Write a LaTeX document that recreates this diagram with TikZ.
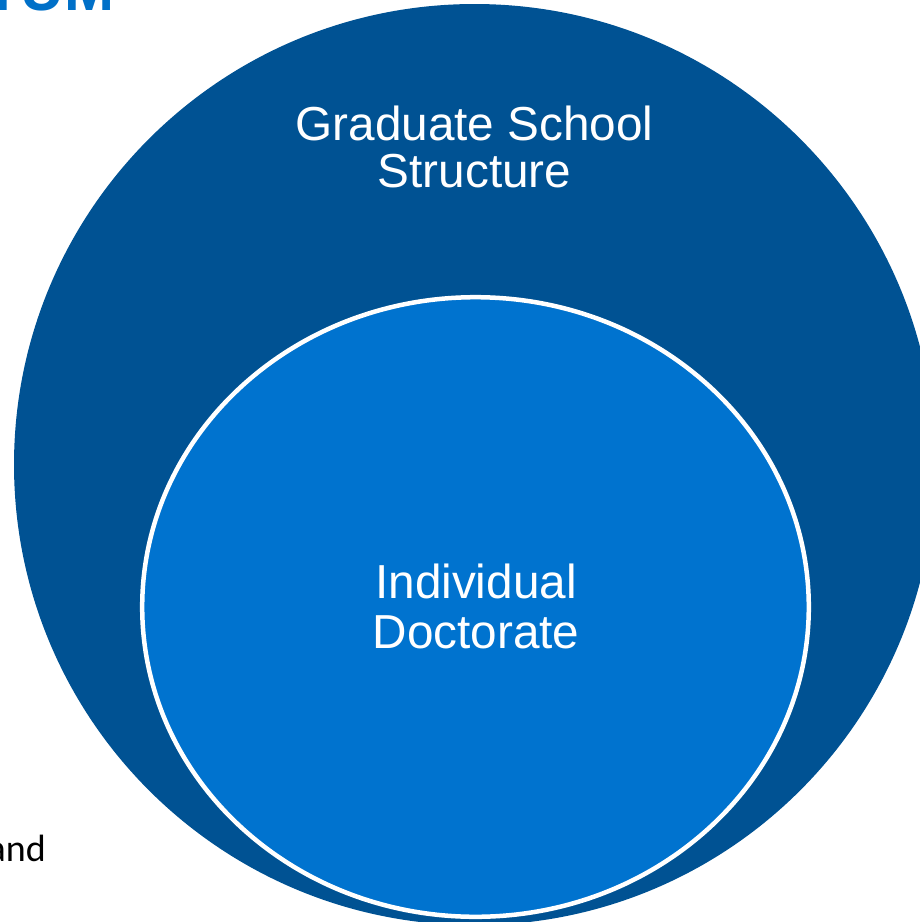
\documentclass[tikz,border=0pt]{standalone}
\usepackage{fontspec}
\setmainfont{Liberation Sans}
\newfontfamily\calibrifont{Carlito}
\usetikzlibrary{shapes.geometric}
\definecolor{tumdark}{HTML}{005293}
\definecolor{tumlight}{HTML}{0073CF}
\definecolor{tumtitle}{HTML}{0070C8}
\begin{document}
\begin{tikzpicture}[x=1pt,y=-1pt,
  bigtext/.style={text=white, align=center, inner sep=0pt, anchor=base,
    font=\fontsize{47.7}{47}\selectfont},
  outerring/.style={circle, fill=tumdark, minimum size=921.2pt, inner sep=0pt, outer sep=0pt},
  innerdisc/.style={ellipse, fill=tumlight, draw=white, line width=4.5pt,
    minimum width=666.6pt, minimum height=619.6pt, inner sep=0pt, outer sep=0pt}]
\useasboundingbox (0,0) rectangle (920,922);
\clip (0,0) rectangle (920,922);
\node[outerring] (outer) at (474.6,464.6) {};
\node[innerdisc] (inner) at (475.5,607) {};
\node[bigtext] (gs) at (474.5,187) {Graduate School\\Structure};
\node[bigtext, font=\fontsize{47.7}{50}\selectfont] (id) at (476,648) {Individual\\Doctorate};
\node[anchor=base west, inner sep=0pt, text=tumtitle,
  font=\bfseries\fontsize{60}{60}\selectfont] (title) at (-16.1,10) {TUM};
\node[anchor=base west, inner sep=0pt, text=black,
  font=\calibrifont\fontsize{38}{38}\selectfont] (andtext) at (-12.5,861) {and};
\end{tikzpicture}
\end{document}
